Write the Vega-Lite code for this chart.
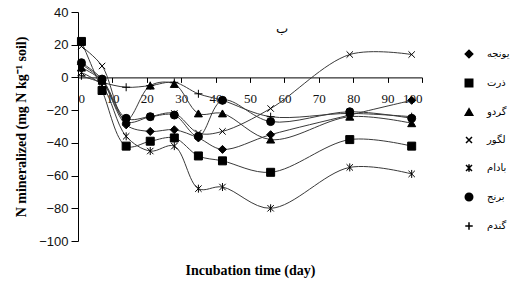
{
  "$schema": "https://vega.github.io/schema/vega-lite/v6.json",
  "width": 344,
  "height": 229,
  "autosize": {"type": "none"},
  "padding": {"left": 78, "top": 12, "right": 91, "bottom": 45},
  "background": "white",
  "config": {
    "view": {"stroke": null},
    "axis": {"domainColor": "#000", "tickColor": "#000", "labelColor": "#111", "grid": false, "labelFont": "Liberation Sans", "labelFontSize": 12, "titleFont": "Liberation Serif", "titleFontSize": 14, "titleFontWeight": "bold", "titleColor": "#000"}
  },
  "title": {"text": "ب", "offset": -30, "dx": 32, "fontSize": 13, "fontWeight": "normal", "font": "DejaVu Sans", "color": "#000"},
  "data": {"values": [
    {"s": "یونجه", "d": 1, "v": 8}, {"s": "یونجه", "d": 7, "v": -2}, {"s": "یونجه", "d": 14, "v": -29}, {"s": "یونجه", "d": 21, "v": -33}, {"s": "یونجه", "d": 28, "v": -32}, {"s": "یونجه", "d": 35, "v": -37}, {"s": "یونجه", "d": 42, "v": -44}, {"s": "یونجه", "d": 56, "v": -35}, {"s": "یونجه", "d": 79, "v": -23}, {"s": "یونجه", "d": 97, "v": -14},
    {"s": "ذرت", "d": 1, "v": 22}, {"s": "ذرت", "d": 7, "v": -8}, {"s": "ذرت", "d": 14, "v": -42}, {"s": "ذرت", "d": 21, "v": -39}, {"s": "ذرت", "d": 28, "v": -37}, {"s": "ذرت", "d": 35, "v": -48}, {"s": "ذرت", "d": 42, "v": -51}, {"s": "ذرت", "d": 56, "v": -58}, {"s": "ذرت", "d": 79, "v": -38}, {"s": "ذرت", "d": 97, "v": -42},
    {"s": "گردو", "d": 1, "v": 6}, {"s": "گردو", "d": 7, "v": -2}, {"s": "گردو", "d": 14, "v": -26}, {"s": "گردو", "d": 21, "v": -5}, {"s": "گردو", "d": 28, "v": -4}, {"s": "گردو", "d": 35, "v": -22}, {"s": "گردو", "d": 42, "v": -22}, {"s": "گردو", "d": 56, "v": -38}, {"s": "گردو", "d": 79, "v": -24}, {"s": "گردو", "d": 97, "v": -28},
    {"s": "لگور", "d": 1, "v": 19}, {"s": "لگور", "d": 7, "v": 7}, {"s": "لگور", "d": 14, "v": -27}, {"s": "لگور", "d": 21, "v": -24}, {"s": "لگور", "d": 28, "v": -22}, {"s": "لگور", "d": 35, "v": -34}, {"s": "لگور", "d": 42, "v": -33}, {"s": "لگور", "d": 56, "v": -19}, {"s": "لگور", "d": 79, "v": 14}, {"s": "لگور", "d": 97, "v": 14},
    {"s": "بادام", "d": 1, "v": 3}, {"s": "بادام", "d": 7, "v": -5}, {"s": "بادام", "d": 14, "v": -36}, {"s": "بادام", "d": 21, "v": -45}, {"s": "بادام", "d": 28, "v": -42}, {"s": "بادام", "d": 35, "v": -68}, {"s": "بادام", "d": 42, "v": -67}, {"s": "بادام", "d": 56, "v": -80}, {"s": "بادام", "d": 79, "v": -55}, {"s": "بادام", "d": 97, "v": -59},
    {"s": "برنج", "d": 1, "v": 9}, {"s": "برنج", "d": 7, "v": -1}, {"s": "برنج", "d": 14, "v": -25}, {"s": "برنج", "d": 21, "v": -24}, {"s": "برنج", "d": 28, "v": -23}, {"s": "برنج", "d": 35, "v": -36}, {"s": "برنج", "d": 42, "v": -14}, {"s": "برنج", "d": 56, "v": -27}, {"s": "برنج", "d": 79, "v": -21}, {"s": "برنج", "d": 97, "v": -25},
    {"s": "گندم", "d": 1, "v": 1}, {"s": "گندم", "d": 7, "v": -3}, {"s": "گندم", "d": 14, "v": -6}, {"s": "گندم", "d": 21, "v": -5}, {"s": "گندم", "d": 28, "v": -3}, {"s": "گندم", "d": 35, "v": -10}, {"s": "گندم", "d": 42, "v": -14}, {"s": "گندم", "d": 56, "v": -24}, {"s": "گندم", "d": 79, "v": -22}, {"s": "گندم", "d": 97, "v": -24}
  ]},
  "encoding": {
    "y": {"field": "v", "type": "quantitative", "scale": {"domain": [-100, 40], "nice": false},
      "axis": {"values": [-100,-80,-60,-40,-20,0,20,40], "labelOverlap": false, "tickSize": 7, "labelPadding": 3, "title": "N mineralized (mg N kg⁻¹ soil)", "titlePadding": 10, "labelFontSize": 13}}
  },
  "layer": [
    {
      "mark": {"type": "line", "interpolate": "catmull-rom", "stroke": "#3a3a3a", "strokeWidth": 1},
      "encoding": {
        "x": {"field": "d", "type": "quantitative", "scale": {"domain": [0, 100], "nice": false},
          "axis": {"orient": "bottom", "offset": -163.6, "values": [0,10,20,30,40,50,60,70,80,90,100], "labelOverlap": false, "tickSize": 5, "labelPadding": 10, "title": null, "labelFontSize": 13, "labelFont": "Liberation Sans Narrow"}},
        "detail": {"field": "s"}
      }
    },
    {
      "mark": {"type": "point", "filled": true, "fill": "#000", "stroke": "#000", "strokeWidth": 1, "opacity": 1, "size": 64},
      "encoding": {
        "x": {"field": "d", "type": "quantitative",
          "axis": {"orient": "bottom", "domain": false, "ticks": false, "labels": false, "title": "Incubation time (day)", "titlePadding": 22}},
        "shape": {"field": "s", "type": "nominal",
          "scale": {"domain": ["یونجه", "ذرت", "گردو", "لگور", "بادام", "برنج", "گندم"],
            "range": ["diamond", "square", "triangle-up", "M-0.8,-0.8L0.8,0.8M-0.8,0.8L0.8,-0.8", "M-0.8,-0.8L0.8,0.8M-0.8,0.8L0.8,-0.8M0,-1V1", "circle", "M-1,0H1M0,-1V1"]},
          "legend": {"orient": "none", "legendX": 386, "legendY": 37, "title": null, "symbolSize": 56, "labelOffset": 13, "labelFont": "DejaVu Sans", "labelFontSize": 10, "labelColor": "#000", "rowPadding": 15}}
      }
    }
  ],
  "resolve": {"axis": {"x": "independent"}}
}
